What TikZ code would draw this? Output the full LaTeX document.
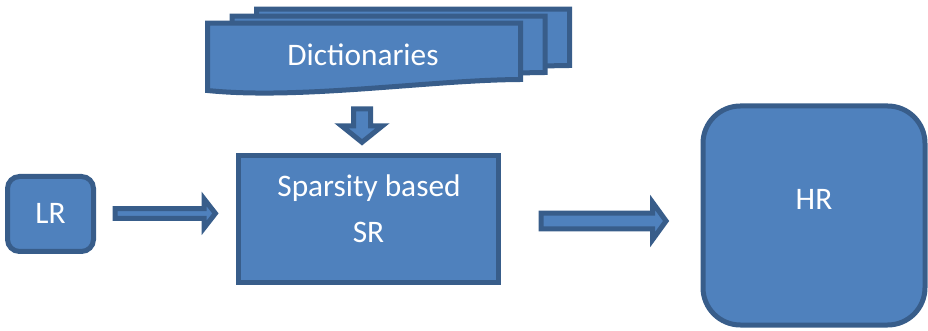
\documentclass[tikz,border=0pt]{standalone}
\usepackage{fontspec}
\setmainfont{Carlito}
\usetikzlibrary{calc}
\definecolor{boxfill}{HTML}{4F81BD}
\definecolor{boxline}{HTML}{385D8A}
\tikzset{
  shape box/.style={draw=boxline, fill=boxfill, line width=3.75pt, inner sep=0pt},
  blk/.style={draw=boxline, fill=boxfill, line width=3.75pt, line join=miter},
  txt/.style={text=white, font=\fontsize{23.5}{28}\selectfont, inner sep=0pt, anchor=base},
}
% horizontal block arrow: start, tip, shaft half-height, head half-height, head length
\newcommand\blockarrowH[5]{%
  \draw[blk] let \p1=#1, \p2=#2 in
    ({\x1},{\y1+#3}) -- ({\x2-#5},{\y1+#3}) -- ({\x2-#5},{\y1+#4}) -- ({\x2},{\y1})
    -- ({\x2-#5},{\y1-#4}) -- ({\x2-#5},{\y1-#3}) -- ({\x1},{\y1-#3}) -- cycle;}
% downward block arrow: start, tip, shaft half-width, head half-width, head length
\newcommand\blockarrowV[5]{%
  \draw[blk] let \p1=#1, \p2=#2 in
    ({\x1-#3},{\y1}) -- ({\x1-#3},{\y2+#5}) -- ({\x1-#4},{\y2+#5}) -- ({\x1},{\y2})
    -- ({\x1+#4},{\y2+#5}) -- ({\x1+#3},{\y2+#5}) -- ({\x1+#3},{\y1}) -- cycle;}
% one sheet of the dictionary stack, wavy lower edge
\newcommand\sheet{%
  \draw[blk] (207.5,23.2) -- (520.5,23.2) -- (520.5,79.5)
    .. controls (430,80) and (300,100) .. (207.5,90.5) -- cycle;}
\begin{document}
\begin{tikzpicture}[x=0.75pt,y=-0.75pt]
\useasboundingbox (0,0) rectangle (928,331);

% dictionary stack
\begin{scope}[shift={(49,-14)}]\sheet\end{scope}
\begin{scope}[shift={(24.5,-7)}]\sheet\end{scope}
\sheet
\node[txt] (dict) at (363,65.7) {Dictionaries};
\coordinate (dictbot) at (362,89);

% processing boxes
\node[shape box, rounded corners=9pt, minimum width=64.5pt, minimum height=56.25pt] (lr) at (50.5,214) {};
\node[txt] (lrtext) at (50.5,224) {LR};

\node[shape box, minimum width=195pt, minimum height=95.25pt] (sr) at (368.5,219) {};
\node[txt] (srtext1) at (369,197) {Sparsity based};
\node[txt] (srtext2) at (368.5,243) {SR};

\node[shape box, rounded corners=28pt, minimum width=166.5pt, minimum height=164.25pt] (hr) at (814,215.5) {};
\node[txt] (hrtext) at (814,210) {HR};

% block arrows between the stages
\blockarrowV{($(dictbot)+(0,20)$)}{($(sr.north)+(-6.5,-10.7)$)}{6.375pt}{15.4pt}{12.4pt}
\blockarrowH{($(lr.east)+(19,-0.6)$)}{($(sr.west)+(-20.6,0)$)}{3.64pt}{10.9pt}{8.5pt}
\blockarrowH{($(sr.east)+(40,2)$)}{($(hr.west)+(-34.4,0)$)}{5.9pt}{13.9pt}{10.1pt}
\end{tikzpicture}
\end{document}
